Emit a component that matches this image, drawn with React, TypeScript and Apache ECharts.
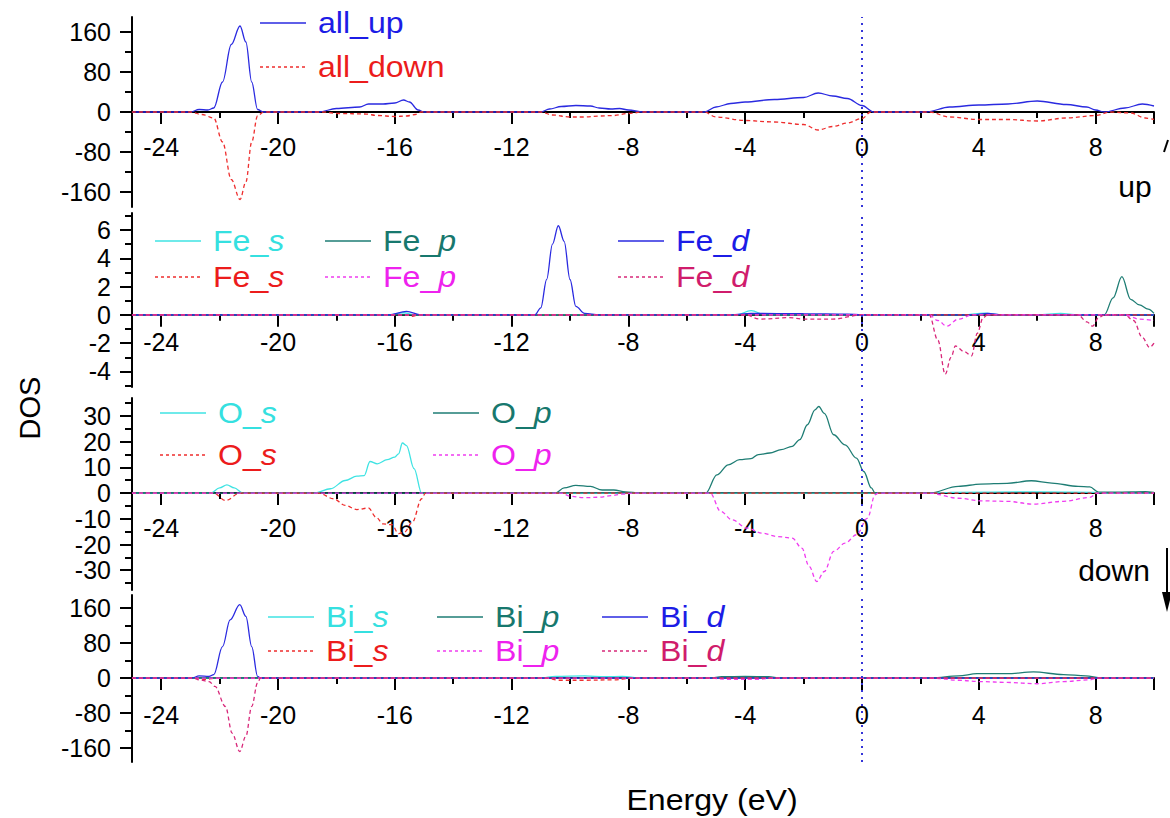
import React, { useEffect, useRef } from "react";
import * as echarts from "echarts";

// ---------- axis ticks ----------
const xLabels = [-24, -20, -16, -12, -8, -4, 0, 4, 8];
const xMajorTicks = [-24, -20, -16, -12, -8, -4, 0, 4, 8, 10];
const xMinorTicks = [-22, -18, -14, -10, -6, -2, 2, 6];

const allMajor = [-160, -80, 0, 80, 160];
const allMinor = [-120, -40, 40, 120];
const feMajor = [-4, -2, 0, 2, 4, 6];
const feMinor = [-5, -3, -1, 1, 3, 5, 7];
const oMajor = [-30, -20, -10, 0, 10, 20, 30];
const oMinor = [-35, -25, -15, -5, 5, 15, 25, 35];
const biMajor = [-160, -80, 0, 80, 160];
const biMinor = [-120, -40, 40, 120];

// ---------- data: [energy (eV), DOS] ----------
const allUp = [[-25,0],[-23.0,0],[-22.7,5],[-22.4,4],[-22.2,8],[-21.9,60],[-21.6,135],[-21.3,172],[-21.1,140],[-20.9,60],[-20.7,5],[-20.5,0],[-18.6,0],[-18.0,7],[-17.2,10],[-16.9,16],[-16.4,16],[-16.0,18],[-15.7,24],[-15.5,20],[-15.2,4],[-15.0,0],[-11.0,0],[-10.7,6],[-10.3,11],[-9.8,13],[-9.3,12],[-9.0,8],[-8.6,6],[-8.3,7],[-8.0,4],[-7.5,0],[-5.4,0],[-5.0,10],[-4.5,17],[-4.0,20],[-3.0,25],[-2.0,29],[-1.5,38],[-1.0,32],[-0.5,27],[0,13],[0.4,0],[2.2,0],[3.0,10],[4.0,14],[5.0,16],[6.0,22],[7.0,15],[7.7,10],[8.0,4],[8.3,0],[9.0,8],[9.6,16],[10,12]];
const allDown = [[-25,0],[-23.0,0],[-22.6,-5],[-22.2,-12],[-21.9,-60],[-21.6,-135],[-21.3,-175],[-21.1,-140],[-20.9,-60],[-20.7,-8],[-20.5,0],[-18.5,0],[-17.9,-3],[-17.0,-4],[-16.6,-7],[-16.0,-9],[-15.6,-8],[-15.3,-5],[-15.1,0],[-11.0,0],[-10.6,-6],[-10.0,-10],[-9.5,-10],[-9.0,-8],[-8.5,-7],[-8.0,-3],[-7.5,0],[-5.4,0],[-5.0,-10],[-4.0,-17],[-3.0,-20],[-2.0,-25],[-1.5,-36],[-1.0,-29],[-0.5,-22],[0,-13],[0.3,0],[2.3,0],[3.0,-10],[4.0,-15],[5.0,-15],[6.0,-18],[7.0,-12],[8.0,-7],[8.5,0],[9.2,-2],[9.7,-12],[10,-15]];

const feSUp = [[-25,0],[-16.2,0],[-15.7,0.15],[-15.3,0],[-4.3,0],[-3.8,0.3],[-3.3,0],[3.5,0],[4.2,0.12],[4.8,0],[6.0,0],[6.8,0.1],[7.4,0],[10,0]];
const fePUp = [[-25,0],[8.3,0],[8.6,1.2],[8.9,2.7],[9.2,1.1],[9.5,0.7],[9.8,0.4],[10,0.1]];
const feDUp = [[-25,0],[-16.2,0],[-15.6,0.25],[-15.1,0],[-11.2,0],[-11.0,0.5],[-10.8,2.5],[-10.6,5.0],[-10.4,6.3],[-10.2,5.2],[-10.0,2.5],[-9.8,0.6],[-9.5,0.1],[-9.0,0],[-4.5,0],[-3.8,0.1],[-2,0.08],[-0.5,0.05],[0,0],[3.8,0],[4.3,0.1],[4.8,0],[10,0]];
const feSDown = [[-25,0],[-15.6,0],[-15.4,-0.1],[-15.2,0],[10,0]];
const fePDown = [[-25,0],[2.3,0],[2.6,-0.4],[2.9,-0.8],[3.3,-0.3],[3.8,0],[9.0,0],[9.5,-0.3],[10,-0.4]];
const feDDown = [[-25,0],[-4.0,0],[-3.5,-0.3],[-2.5,-0.2],[-2.0,-0.3],[-1.0,-0.3],[0,0],[2.3,0],[2.6,-1.8],[2.85,-4.2],[3.05,-3.0],[3.2,-2.2],[3.5,-2.6],[3.75,-2.9],[3.95,-1.3],[4.15,-0.2],[4.3,0],[7.4,0],[7.7,-0.5],[7.9,-0.8],[8.1,-0.2],[8.3,0],[9.0,0],[9.3,-0.4],[9.6,-1.6],[9.85,-2.3],[10,-2.0]];

const oSUp = [[-25,0],[-22.3,0],[-22.0,2],[-21.75,3.2],[-21.5,2],[-21.2,0],[-18.75,0],[-18.2,1.7],[-17.7,4.9],[-17.3,6.6],[-17.05,6.8],[-16.85,12.3],[-16.6,11.4],[-16.26,13],[-16.0,14],[-15.87,15.3],[-15.74,19.5],[-15.6,18.5],[-15.34,9.5],[-15.08,0],[2.3,0],[3,0.3],[6,0.5],[8,0.3],[8.3,0],[10,0]];
const oSDown = [[-25,0],[-22.2,0],[-21.8,-2.9],[-21.3,0],[-18.6,0],[-18.1,-2.2],[-17.7,-4.8],[-17.3,-6.4],[-16.9,-5.8],[-16.65,-9.3],[-16.4,-12],[-16.1,-12.3],[-15.87,-15.8],[-15.67,-15.2],[-15.4,-11.3],[-15.08,-2.2],[-14.95,0],[10,0]];
const oPUp = [[-25,0],[-10.5,0],[-10.2,2],[-9.8,3],[-9.3,2.6],[-8.9,1.2],[-8.5,1.2],[-8.1,0.5],[-7.6,0],[-5.35,0],[-4.97,7.1],[-4.58,11],[-4.19,13],[-3.8,13.4],[-3.55,15],[-3.16,15.6],[-2.77,16.9],[-2.39,18.2],[-2.13,20.8],[-1.87,26.6],[-1.61,32.4],[-1.48,33.7],[-1.29,31],[-0.97,22.7],[-0.58,18.8],[-0.19,13.6],[0.06,8.4],[0.32,2],[0.45,0],[2.3,0],[3.3,2.6],[4.06,3.5],[4.97,3.8],[5.8,4.8],[6.5,3.9],[7.4,2.6],[7.8,2.4],[8.1,0.4],[8.7,0.4],[9.7,0.6],[10,0.3]];
const oPDown = [[-25,0],[-10.3,0],[-10.0,-1.2],[-9.5,-1.8],[-9.0,-1.6],[-8.6,-1],[-8.2,-0.4],[-7.8,0],[-5.2,0],[-4.84,-7.1],[-4.45,-10.4],[-3.94,-13.6],[-3.42,-15.6],[-2.9,-16.9],[-2.39,-17.5],[-2.06,-21.4],[-1.81,-28.5],[-1.55,-34.4],[-1.29,-30.5],[-0.97,-22.7],[-0.58,-19.5],[-0.19,-16.2],[0.19,-9.7],[0.45,-0.6],[0.55,0],[2.3,0],[3.3,-2],[4.06,-3],[4.97,-3.2],[5.87,-4.3],[6.9,-3.2],[7.8,-1.7],[8.06,0],[10,0]];

const biSUp = [[-25,0],[-11.0,0],[-10.5,4],[-9.5,5],[-8.8,3],[-8.2,4],[-7.6,0],[10,0]];
const biSDown = [[-25,0],[-22.9,0],[-22.5,-3],[-22.1,0],[-10.8,0],[-10.4,-5],[-9.5,-5],[-8.5,-4],[-7.8,0],[10,0]];
const biPUp = [[-25,0],[-5.2,0],[-4.8,3],[-4.0,4],[-3.2,3],[-2.8,0],[2.4,0],[3.3,5],[3.94,10],[4.97,10],[5.87,14],[6.9,8],[7.66,5],[8.2,0],[10,0]];
const biPDown = [[-25,0],[-5.2,0],[-4.6,-3],[-3.6,-3],[-3.0,0],[2.4,0],[3.3,-5],[4.06,-8],[4.97,-10],[6.0,-13],[6.9,-8],[7.8,-4],[8.06,0],[10,0]];
const biDUp = [[-25,0],[-22.95,0],[-22.7,5],[-22.36,4],[-22.2,8],[-21.9,72],[-21.64,133],[-21.31,168],[-21.1,141],[-20.9,72],[-20.7,4],[-20.6,0],[10,0]];
const biDDown = [[-25,0],[-22.9,0],[-22.7,-4],[-22.36,-8],[-22.16,-19],[-21.8,-65],[-21.57,-126],[-21.31,-168],[-21.1,-133],[-20.9,-65],[-20.7,-11],[-20.6,0],[10,0]];

// ---------- styling ----------
const FONT = "Liberation Sans, Arial, sans-serif";
const C = {
  blue: "#2a2ae0",
  red: "#ee2e2e",
  cyan: "#3fe3e3",
  teal: "#1e7d74",
  magenta: "#f03cf0",
  crimson: "#d8287a",
};
const TXT = {
  blue: "#1c1ce6",
  red: "#ec1c1c",
  cyan: "#35e0e0",
  teal: "#17786e",
  magenta: "#ee22ee",
  crimson: "#d01c6c",
};

const panels = [
  { top: 17, height: 190, min: -190, max: 190, major: allMajor, minor: allMinor, labelMargin: 22 },
  { top: 213, height: 174, min: -5.1, max: 7.2, major: feMajor, minor: feMinor, labelMargin: 15 },
  { top: 398, height: 192, min: -37.7, max: 37, major: oMajor, minor: oMinor, labelMargin: 22 },
  { top: 595, height: 167, min: -192, max: 190, major: biMajor, minor: biMinor, labelMargin: 24 },
];

const seriesDefs: any[] = [
  { p: 0, name: "all_up", data: allUp, color: C.blue, dash: false },
  { p: 0, name: "all_down", data: allDown, color: C.red, dash: true },
  { p: 1, name: "Fe_s up", data: feSUp, color: C.cyan, dash: false },
  { p: 1, name: "Fe_p up", data: fePUp, color: C.teal, dash: false },
  { p: 1, name: "Fe_d up", data: feDUp, color: C.blue, dash: false },
  { p: 1, name: "Fe_s down", data: feSDown, color: C.red, dash: true },
  { p: 1, name: "Fe_p down", data: fePDown, color: C.magenta, dash: true },
  { p: 1, name: "Fe_d down", data: feDDown, color: C.crimson, dash: true },
  { p: 2, name: "O_s up", data: oSUp, color: C.cyan, dash: false },
  { p: 2, name: "O_p up", data: oPUp, color: C.teal, dash: false },
  { p: 2, name: "O_s down", data: oSDown, color: C.red, dash: true },
  { p: 2, name: "O_p down", data: oPDown, color: C.magenta, dash: true },
  { p: 3, name: "Bi_s up", data: biSUp, color: C.cyan, dash: false },
  { p: 3, name: "Bi_p up", data: biPUp, color: C.teal, dash: false },
  { p: 3, name: "Bi_d up", data: biDUp, color: C.blue, dash: false },
  { p: 3, name: "Bi_s down", data: biSDown, color: C.red, dash: true },
  { p: 3, name: "Bi_p down", data: biPDown, color: C.magenta, dash: true },
  { p: 3, name: "Bi_d down", data: biDDown, color: C.crimson, dash: true },
];

// legend layout: [x line start, y, prefix, italic suffix, line color, text color, dashed]
const legendItems: any[] = [
  [260, 23, "all_up", "", C.blue, TXT.blue, false],
  [260, 67, "all_down", "", C.red, TXT.red, true],
  [155, 241, "Fe_", "s", C.cyan, TXT.cyan, false],
  [155, 277, "Fe_", "s", C.red, TXT.red, true],
  [325, 241, "Fe_", "p", C.teal, TXT.teal, false],
  [325, 277, "Fe_", "p", C.magenta, TXT.magenta, true],
  [618, 241, "Fe_", "d", C.blue, TXT.blue, false],
  [618, 277, "Fe_", "d", C.crimson, TXT.crimson, true],
  [160, 413, "O_", "s", C.cyan, TXT.cyan, false],
  [160, 455, "O_", "s", C.red, TXT.red, true],
  [433, 413, "O_", "p", C.teal, TXT.teal, false],
  [433, 455, "O_", "p", C.magenta, TXT.magenta, true],
  [268, 617, "Bi_", "s", C.cyan, TXT.cyan, false],
  [268, 651, "Bi_", "s", C.red, TXT.red, true],
  [437, 617, "Bi_", "p", C.teal, TXT.teal, false],
  [437, 651, "Bi_", "p", C.magenta, TXT.magenta, true],
  [602, 617, "Bi_", "d", C.blue, TXT.blue, false],
  [602, 651, "Bi_", "d", C.crimson, TXT.crimson, true],
];

export default function App() {
  const ref = useRef<HTMLDivElement>(null);
  useEffect(() => {
    if (!ref.current) return;
    const chart = echarts.init(ref.current, null, { renderer: "svg" });

    const grid: any[] = [];
    const xAxis: any[] = [];
    const yAxis: any[] = [];
    const hiddenAxis = { show: false };

    // data grids (0..3)
    panels.forEach((p, i) => {
      grid.push({ left: 132, width: 1022, top: p.top, height: p.height });
      xAxis.push({
        type: "value", gridIndex: i, min: -25, max: 10, position: "bottom",
        axisLine: { show: false, onZero: false }, axisTick: hiddenAxis, axisLabel: hiddenAxis,
        splitLine: hiddenAxis,
      });
      yAxis.push({
        type: "value", gridIndex: i, min: p.min, max: p.max, position: "left",
        axisLine: { show: true, onZero: false, lineStyle: { color: "#000", width: 2 } },
        axisTick: { show: true, customValues: p.major, length: 12, lineStyle: { color: "#000", width: 2 } },
        axisLabel: { show: true, customValues: p.major, fontSize: 25, color: "#000", fontFamily: FONT, margin: 21 },
        splitLine: hiddenAxis,
      });
    });
    // minor y ticks on the data grids (yAxis 4..7)
    panels.forEach((p, i) => {
      yAxis.push({
        type: "value", gridIndex: i, min: p.min, max: p.max, position: "left",
        axisLine: { show: false, onZero: false },
        axisTick: { show: true, customValues: p.minor, length: 7, lineStyle: { color: "#000", width: 2 } },
        axisLabel: hiddenAxis, splitLine: hiddenAxis,
      });
    });
    // zero-line grids (4..7): bottom edge on the panel's zero value, holding the energy axis
    panels.forEach((p, i) => {
      const zeroOffset = (p.height * p.max) / (p.max - p.min);
      const g = 4 + i;
      grid.push({ left: 132, width: 1022, top: p.top, height: zeroOffset });
      xAxis.push({
        type: "value", gridIndex: g, min: -25, max: 10, position: "bottom",
        axisLine: { show: true, onZero: false, lineStyle: { color: "#000", width: 2 } },
        axisTick: { show: true, customValues: xMajorTicks, length: 12, lineStyle: { color: "#000", width: 2 } },
        axisLabel: { show: true, customValues: xLabels, fontSize: 25, color: "#000", fontFamily: FONT, margin: p.labelMargin },
        splitLine: hiddenAxis,
      });
      xAxis.push({
        type: "value", gridIndex: g, min: -25, max: 10, position: "bottom",
        axisLine: { show: false, onZero: false },
        axisTick: { show: true, customValues: xMinorTicks, length: 6, lineStyle: { color: "#000", width: 2 } },
        axisLabel: hiddenAxis, splitLine: hiddenAxis,
      });
      yAxis.push({
        type: "value", gridIndex: g, min: 0, max: 1, show: false,
      });
    });

    const firstInPanel: Record<number, boolean> = {};
    const series = seriesDefs.map((s) => {
      const first = !firstInPanel[s.p];
      firstInPanel[s.p] = true;
      const o: any = {
        type: "line", name: s.name, data: s.data,
        xAxisIndex: s.p, yAxisIndex: s.p,
        showSymbol: false, smooth: 0.35, smoothMonotone: "x",
        lineStyle: { color: s.color, width: 1.3, type: s.dash ? [4, 3] : "solid" },
        itemStyle: { color: s.color },
        z: 3,
      };
      if (first) {
        o.markLine = {
          silent: true, symbol: ["none", "none"], label: { show: false },
          lineStyle: { color: "#3434d8", type: [2, 5], width: 2 },
          data: [{ xAxis: 0 }],
        };
      }
      return o;
    });

    const graphic: any[] = [];
    const textStyle = (t: string, size: number) => ({
      text: t, fontSize: size, fontFamily: FONT, fill: "#000", align: "center", verticalAlign: "middle",
    });
    legendItems.forEach(([x, y, pre, ital, lc, tc, dash]) => {
      graphic.push({
        type: "line", shape: { x1: x, y1: y, x2: x + 46, y2: y },
        style: { stroke: lc, lineWidth: 1.5, lineDash: dash ? [3, 3] : null },
      });
      graphic.push({
        type: "text", x: x + 58, y: y, scaleX: 1.07,
        style: {
          text: ital ? `{a|${pre}}{b|${ital}}` : `{a|${pre}}`,
          verticalAlign: "middle",
          rich: {
            a: { fill: tc, fontSize: 30, fontFamily: FONT },
            b: { fill: tc, fontSize: 30, fontFamily: FONT, fontStyle: "italic" },
          },
        },
      });
    });
    graphic.push({ type: "text", x: 712, y: 800, scaleX: 1.07, style: textStyle("Energy (eV)", 30) });
    graphic.push({ type: "text", x: 30, y: 408, rotation: Math.PI / 2, style: textStyle("DOS", 29) });
    graphic.push({ type: "text", x: 1135, y: 186, style: textStyle("up", 30) });
    graphic.push({ type: "text", x: 1114, y: 570, style: textStyle("down", 30) });
    graphic.push({
      type: "line", shape: { x1: 1167, y1: 548, x2: 1167, y2: 600 },
      style: { stroke: "#000", lineWidth: 2 },
    });
    graphic.push({
      type: "polygon", shape: { points: [[1162, 592], [1172, 592], [1167, 612]] },
      style: { fill: "#000" },
    });
    graphic.push({
      type: "line", shape: { x1: 1164, y1: 152, x2: 1168, y2: 140 },
      style: { stroke: "#000", lineWidth: 2 },
    });

    chart.setOption({
      animation: false,
      backgroundColor: "#fff",
      grid, xAxis, yAxis, series, graphic,
    });
    return () => chart.dispose();
  }, []);
  return (
    <div
      ref={ref}
      style={{ position: "absolute", left: 0, top: 0, width: 1170, height: 818 }}
    />
  );
}
